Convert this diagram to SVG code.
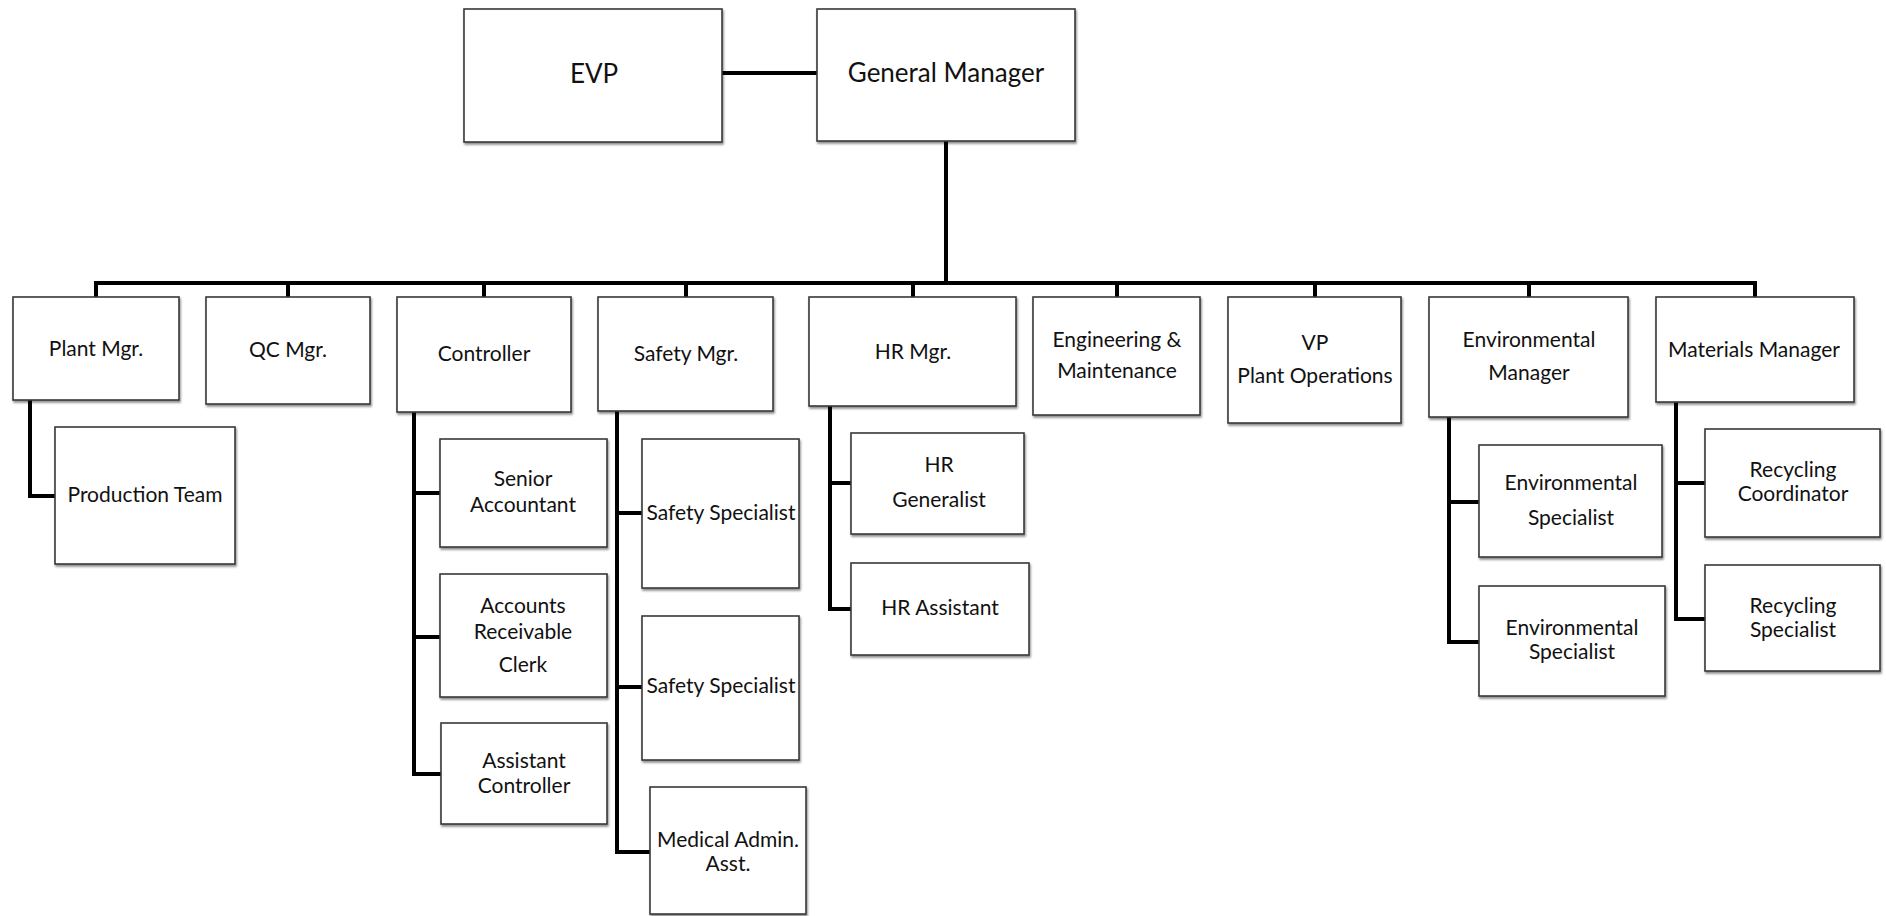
<svg xmlns="http://www.w3.org/2000/svg" width="1886" height="916" viewBox="0 0 1886 916">
<defs>
<filter id="sh" x="-5%" y="-5%" width="115%" height="120%">
<feDropShadow dx="1" dy="2" stdDeviation="1" flood-color="#000" flood-opacity="0.45"/>
</filter>
<style>
.box{fill:#fff;stroke:#3a3a3a;stroke-width:1.6;filter:url(#sh)}
.t{font-family:Lato,"Liberation Sans",sans-serif;font-size:21px;fill:#111;text-anchor:middle}
.big{font-size:26px}
.c{fill:none;stroke:#000;stroke-width:4;stroke-linecap:square;stroke-linejoin:miter}
</style>
</defs>
<rect width="1886" height="916" fill="#fff"/>
<g id="connectors">
<path class="c" d="M722 73H817"/>
<path class="c" d="M946 141V283"/>
<path class="c" d="M96 297V283H1755V297"/>
<path class="c" d="M288 283V297M484 283V297M686 283V297M913 283V297M1117 283V297M1315 283V297M1529 283V297"/>
<path class="c" d="M30 400V496H55"/>
<path class="c" d="M414 412V774H441M414 493H440M414 637H440"/>
<path class="c" d="M617 411V852H650M617 513H642M617 687H642"/>
<path class="c" d="M830 406V609H851M830 483H851"/>
<path class="c" d="M1449 417V642H1479M1449 502H1479"/>
<path class="c" d="M1676 402V619H1705M1676 483H1705"/>
</g>
<g id="evp"><rect class="box" x="464" y="9" width="258" height="133"/><text class="t big" x="594" y="83">EVP</text></g>
<g id="gm"><rect class="box" x="817" y="9" width="258" height="132"/><text class="t big" x="946" y="82">General Manager</text></g>
<g id="plant-mgr"><rect class="box" x="13" y="297" width="166" height="103"/><text class="t" x="96" y="356">Plant Mgr.</text></g>
<g id="qc-mgr"><rect class="box" x="206" y="297" width="164" height="107"/><text class="t" x="288" y="357">QC Mgr.</text></g>
<g id="controller"><rect class="box" x="397" y="297" width="174" height="115"/><text class="t" x="484" y="361">Controller</text></g>
<g id="safety-mgr"><rect class="box" x="598" y="297" width="175" height="114"/><text class="t" x="686" y="361">Safety Mgr.</text></g>
<g id="hr-mgr"><rect class="box" x="809" y="297" width="207" height="109"/><text class="t" x="913" y="359">HR Mgr.</text></g>
<g id="eng"><rect class="box" x="1033" y="297" width="167" height="118"/><text class="t" x="1117" y="347">Engineering &amp;</text><text class="t" x="1117" y="378">Maintenance</text></g>
<g id="vp"><rect class="box" x="1228" y="297" width="173" height="126"/><text class="t" x="1315" y="350">VP</text><text class="t" x="1315" y="383">Plant Operations</text></g>
<g id="env-mgr"><rect class="box" x="1429" y="297" width="199" height="120"/><text class="t" x="1529" y="347">Environmental</text><text class="t" x="1529" y="380">Manager</text></g>
<g id="mat-mgr"><rect class="box" x="1656" y="297" width="198" height="105"/><text class="t" x="1754" y="357">Materials Manager</text></g>
<g id="production"><rect class="box" x="55" y="427" width="180" height="137"/><text class="t" x="145" y="502">Production Team</text></g>
<g id="senior-acct"><rect class="box" x="440" y="439" width="167" height="108"/><text class="t" x="523" y="486">Senior</text><text class="t" x="523" y="512">Accountant</text></g>
<g id="ar-clerk"><rect class="box" x="440" y="574" width="167" height="123"/><text class="t" x="523" y="613">Accounts</text><text class="t" x="523" y="639">Receivable</text><text class="t" x="523" y="672">Clerk</text></g>
<g id="asst-controller"><rect class="box" x="441" y="723" width="166" height="101"/><text class="t" x="524" y="768">Assistant</text><text class="t" x="524" y="793">Controller</text></g>
<g id="safety-spec-1"><rect class="box" x="642" y="439" width="157" height="149"/><text class="t" x="721" y="520">Safety Specialist</text></g>
<g id="safety-spec-2"><rect class="box" x="642" y="616" width="157" height="144"/><text class="t" x="721" y="693">Safety Specialist</text></g>
<g id="medical"><rect class="box" x="650" y="787" width="156" height="127"/><text class="t" x="728" y="847">Medical Admin.</text><text class="t" x="728" y="871">Asst.</text></g>
<g id="hr-generalist"><rect class="box" x="851" y="433" width="173" height="101"/><text class="t" x="939" y="472">HR</text><text class="t" x="939" y="507">Generalist</text></g>
<g id="hr-assistant"><rect class="box" x="851" y="563" width="178" height="92"/><text class="t" x="940" y="615">HR Assistant</text></g>
<g id="env-spec-1"><rect class="box" x="1479" y="445" width="183" height="112"/><text class="t" x="1571" y="490">Environmental</text><text class="t" x="1571" y="525">Specialist</text></g>
<g id="env-spec-2"><rect class="box" x="1479" y="586" width="186" height="110"/><text class="t" x="1572" y="635">Environmental</text><text class="t" x="1572" y="659">Specialist</text></g>
<g id="recycling-coord"><rect class="box" x="1705" y="429" width="175" height="108"/><text class="t" x="1793" y="477">Recycling</text><text class="t" x="1793" y="501">Coordinator</text></g>
<g id="recycling-spec"><rect class="box" x="1705" y="565" width="175" height="106"/><text class="t" x="1793" y="613">Recycling</text><text class="t" x="1793" y="637">Specialist</text></g>
</svg>
